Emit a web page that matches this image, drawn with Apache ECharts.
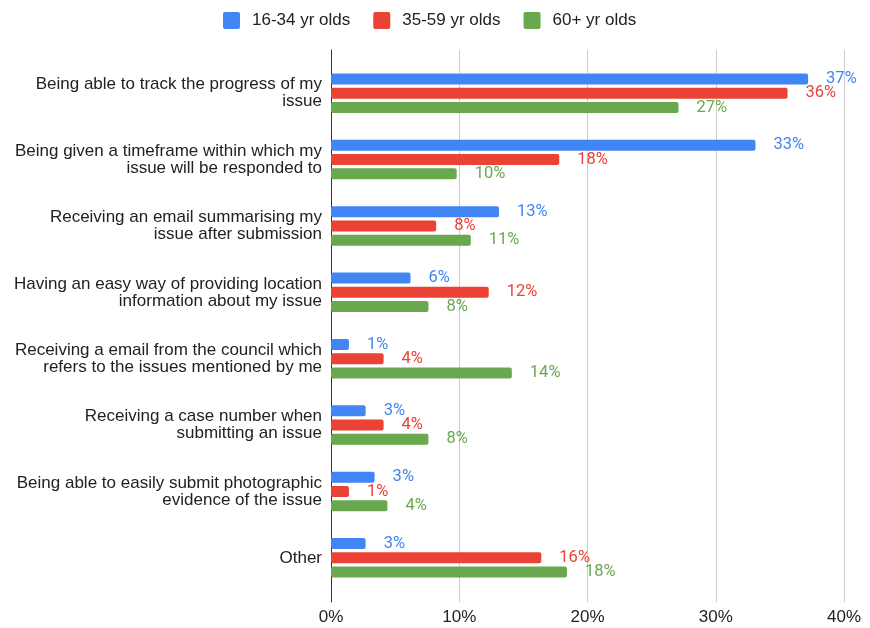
<!DOCTYPE html>
<html>
<head>
<meta charset="utf-8">
<script src="https://cdn.jsdelivr.net/npm/echarts@6/dist/echarts.min.js"></script>
<style>
  html, body { margin: 0; padding: 0; background: #fff; }
  #chart { width: 870px; height: 628px; }
</style>
</head>
<body>
<div id="chart"></div>
<script>
// Survey features, listed top to bottom
const categories = [
  'Being able to track the progress of my\nissue',
  'Being given a timeframe within which my\nissue will be responded to',
  'Receiving an email summarising my\nissue after submission',
  'Having an easy way of providing location\ninformation about my issue',
  'Receiving a email from the council which\nrefers to the issues mentioned by me',
  'Receiving a case number when\nsubmitting an issue',
  'Being able to easily submit photographic\nevidence of the issue',
  'Other'
];

// Share of respondents (%) per age group
const age16to34 = [37.2, 33.1, 13.1, 6.2, 1.4, 2.7, 3.4, 2.7];
const age35to59 = [35.6, 17.8, 8.2, 12.3, 4.1, 4.1, 1.4, 16.4];
const age60plus = [27.1, 9.8, 10.9, 7.6, 14.1, 7.6, 4.4, 18.4];

const seriesNames = ['16-34 yr olds', '35-59 yr olds', '60+ yr olds'];
const seriesColors = ['#4285F4', '#EA4335', '#6AA84F'];

const xTicks = { min: 0, max: 40, interval: 10 };

// square legend swatch with slightly rounded corners
const swatchIcon = 'path://M2,0H15A2,2 0 0 1 17,2V15A2,2 0 0 1 15,17H2A2,2 0 0 1 0,15V2A2,2 0 0 1 2,0Z';

const chart = echarts.init(document.getElementById('chart'));

function barSeries(name, values, color) {
  return {
    name: name,
    type: 'bar',
    xAxisIndex: 1,
    yAxisIndex: 1,
    data: values,
    barWidth: 11,
    barGap: '30%',
    itemStyle: { color: color, borderRadius: 2 },
    label: {
      show: true,
      position: 'right',
      distance: 18,
      color: color,
      fontFamily: 'Roboto',
      fontSize: 16.5,
      formatter: p => Math.round(p.value) + '%'
    }
  };
}

chart.setOption({
  animation: false,
  backgroundColor: '#ffffff',
  legend: {
    top: 7,
    left: 218,
    icon: swatchIcon,
    itemWidth: 17,
    itemHeight: 17,
    itemGap: 23,
    data: seriesNames,
    textStyle: {
      color: '#222',
      fontFamily: 'Liberation Sans, Arial, sans-serif',
      fontSize: 17,
      padding: [0, 0, 0, 7]
    }
  },
  grid: [
    // frame: gridlines, axis line and tick labels
    { left: 331, right: 26, top: 50, bottom: 26 },
    // bars and category labels
    { left: 331, right: 26, top: 60, bottom: 37 }
  ],
  xAxis: [
    {
      gridIndex: 0,
      type: 'value',
      min: xTicks.min,
      max: xTicks.max,
      interval: xTicks.interval,
      axisLine: { show: false },
      axisTick: { show: false },
      splitLine: { lineStyle: { color: '#cccccc', width: 1 } },
      axisLabel: {
        formatter: '{value}%',
        color: '#222',
        fontFamily: 'Liberation Sans, Arial, sans-serif',
        fontSize: 17,
        margin: 7
      }
    },
    {
      gridIndex: 1,
      type: 'value',
      min: xTicks.min,
      max: xTicks.max,
      show: false
    }
  ],
  yAxis: [
    {
      gridIndex: 0,
      type: 'value',
      min: 0,
      max: 1,
      axisLine: { show: true, lineStyle: { color: '#333', width: 1 } },
      axisTick: { show: false },
      axisLabel: { show: false },
      splitLine: { show: false }
    },
    {
      gridIndex: 1,
      type: 'category',
      data: categories,
      inverse: true,
      axisLine: { show: false },
      axisTick: { show: false },
      splitLine: { show: false },
      axisLabel: {
        color: '#222',
        fontFamily: 'Liberation Sans, Arial, sans-serif',
        fontSize: 17,
        lineHeight: 17,
        margin: 9,
        align: 'right'
      }
    }
  ],
  series: [
    barSeries(seriesNames[0], age16to34, seriesColors[0]),
    barSeries(seriesNames[1], age35to59, seriesColors[1]),
    barSeries(seriesNames[2], age60plus, seriesColors[2])
  ]
});
</script>
</body>
</html>
